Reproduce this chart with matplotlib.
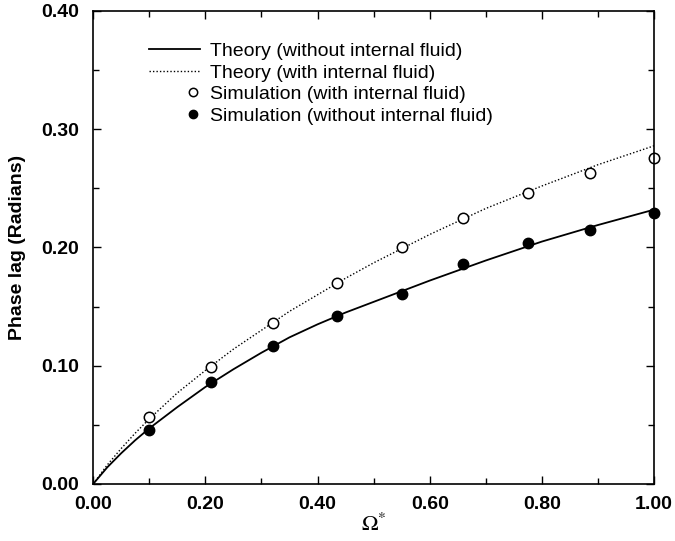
import numpy as np
import matplotlib.pyplot as plt
from matplotlib.ticker import MultipleLocator, FormatStrFormatter
from matplotlib.legend_handler import HandlerBase
from matplotlib.lines import Line2D

plt.rcParams['font.family'] = ['Liberation Sans', 'DejaVu Sans']
plt.rcParams['mathtext.fontset'] = 'stix'

# theory curves
omega_th = [0.0, 0.025, 0.05, 0.075, 0.10, 0.15, 0.20, 0.25, 0.30, 0.35, 0.40, 0.45,
            0.50, 0.60, 0.70, 0.80, 0.90, 1.00]
lag_th_dry = [0.0, 0.014, 0.026, 0.037, 0.047, 0.065, 0.082, 0.097, 0.111, 0.124, 0.135, 0.145,
              0.154, 0.172, 0.189, 0.205, 0.219, 0.232]
lag_th_wet = [0.0, 0.016, 0.030, 0.043, 0.055, 0.077, 0.096, 0.114, 0.130, 0.146, 0.160, 0.174,
              0.187, 0.211, 0.233, 0.252, 0.270, 0.286]

# simulation points
omega_sim = [0.10, 0.21, 0.32, 0.435, 0.55, 0.66, 0.775, 0.885, 1.00]
lag_sim_wet = [0.057, 0.099, 0.136, 0.170, 0.200, 0.225, 0.246, 0.263, 0.276]
lag_sim_dry = [0.046, 0.086, 0.117, 0.142, 0.161, 0.186, 0.204, 0.215, 0.229]


class RightMarker(HandlerBase):
    # single marker at the right end of the handle box
    def create_artists(self, legend, orig_handle, xdescent, ydescent, width, height, fontsize, trans):
        x = -xdescent + width - 5
        y = -ydescent + height / 2
        m = Line2D([x], [y], ls='none', marker='o', ms=orig_handle.get_markersize() * 0.8,
                   mfc=orig_handle.get_markerfacecolor(), mec=orig_handle.get_markeredgecolor(),
                   mew=orig_handle.get_markeredgewidth())
        m.set_transform(trans)
        return [m]


fig = plt.figure(figsize=(6.75, 5.41), dpi=100)
ax = fig.add_axes([0.138, 0.1054, 0.831, 0.8743])

ax.plot(omega_th, lag_th_dry, color='black', lw=1.3, label='Theory (without internal fluid)')
ax.plot(omega_th, lag_th_wet, color='black', lw=1.0, ls=(0, (1, 1.5)), label='Theory (with internal fluid)')
s1, = ax.plot(omega_sim, lag_sim_wet, ls='none', marker='o', ms=7.5, mfc='white', mec='black', mew=1.1,
              label='Simulation (with internal fluid)', clip_on=False)
s2, = ax.plot(omega_sim, lag_sim_dry, ls='none', marker='o', ms=7.5, mfc='black', mec='black',
              label='Simulation (without internal fluid)', clip_on=False)

ax.set_xlim(0, 1)
ax.set_ylim(0, 0.4)
ax.xaxis.set_major_locator(MultipleLocator(0.2))
ax.xaxis.set_minor_locator(MultipleLocator(0.1))
ax.yaxis.set_major_locator(MultipleLocator(0.1))
ax.yaxis.set_minor_locator(MultipleLocator(0.05))
ax.xaxis.set_major_formatter(FormatStrFormatter('%.2f'))
ax.yaxis.set_major_formatter(FormatStrFormatter('%.2f'))
ax.tick_params(which='both', direction='in', top=True, right=True, width=1.0)
ax.tick_params(which='major', length=6, labelsize=14)
ax.tick_params(which='minor', length=4)
ax.tick_params(axis='x', which='major', pad=9)
ax.tick_params(axis='y', which='major', pad=10)
for lab in ax.get_xticklabels() + ax.get_yticklabels():
    lab.set_fontweight('bold')
for s in ax.spines.values():
    s.set_linewidth(1.2)

ax.set_xlabel(r'$\Omega^{*}$', fontsize=16, labelpad=0)
ax.set_ylabel('Phase lag (Radians)', fontsize=14, fontweight='bold', labelpad=11)

leg = ax.legend(loc='upper left', bbox_to_anchor=(0.069, 0.97), frameon=False, fontsize=14,
                handlelength=2.6, handletextpad=0.5, labelspacing=0.2,
                handler_map={s1: RightMarker(), s2: RightMarker()})

fig.savefig('out.png', dpi=100)
